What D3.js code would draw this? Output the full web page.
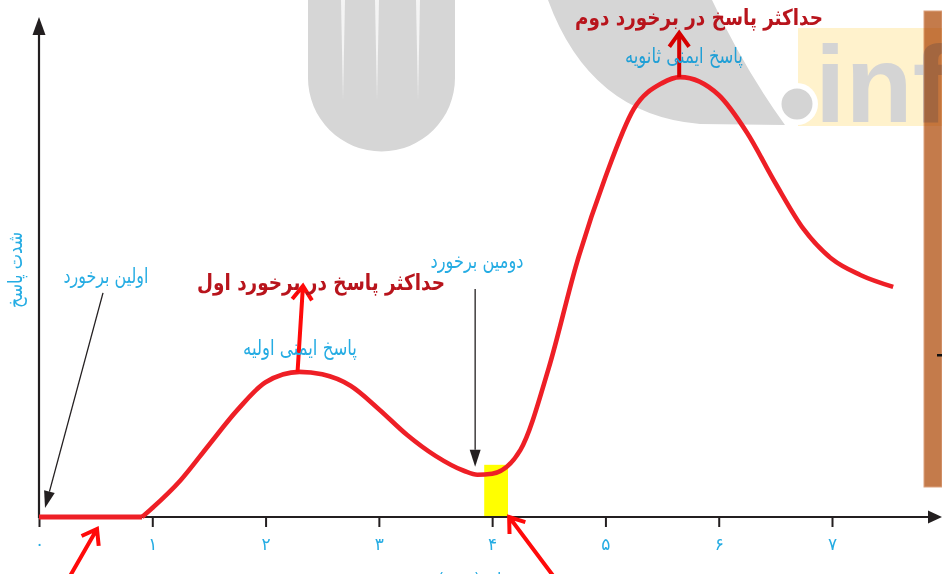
<!DOCTYPE html>
<html>
<head>
<meta charset="utf-8">
<script src="https://cdn.jsdelivr.net/npm/d3@7"></script>
<style>
  html, body { margin: 0; padding: 0; background: #ffffff; }
  svg { display: block; }
</style>
</head>
<body>
<svg id="chart" width="942" height="574"></svg>
<script>
// Time axis and its Persian tick labels
const timeTicks = [0, 1, 2, 3, 4, 5, 6, 7];
const tickLabels = ['۰', '۱', '۲', '۳', '۴', '۵', '۶', '۷'];

// Immune response intensity over time (primary then secondary response)
const responseTime  = [0, 0.91, 1.00, 1.25, 1.50, 1.75, 2.00, 2.30, 2.50, 2.75, 3.00, 3.25, 3.50, 3.75, 3.87, 4.00, 4.25, 4.50, 4.75, 5.00, 5.25, 5.50, 5.66, 6.00, 6.25, 6.50, 6.75, 7.00, 7.25, 7.54];
const responseLevel = [0, 0, 0.18, 0.74, 1.45, 2.15, 2.71, 2.92, 2.87, 2.64, 2.17, 1.65, 1.23, 0.93, 0.85, 0.87, 1.35, 3.00, 5.13, 6.84, 8.21, 8.73, 8.85, 8.49, 7.73, 6.72, 5.79, 5.19, 4.87, 4.63];

// Second exposure window (start, end) and its marker height
const secondExposureWindow = [3.93, 4.14];
const secondExposureLevel = [1.05];

// Texts
const yTitle = 'شدت پاسخ';
const xTitle = 'زمان (هفته)';
const peakTitles = ['حداکثر پاسخ در برخورد اول', 'حداکثر پاسخ در برخورد دوم'];
const responseNames = ['پاسخ ایمنی اولیه', 'پاسخ ایمنی ثانویه'];
const exposureNames = ['اولین برخورد', 'دومین برخورد'];

const svg = d3.select('#chart');
const W = 942, H = 574;

const x = d3.scaleLinear().domain([0, 7]).range([39, 832]);
const y = d3.scaleLinear().domain([0, 10]).range([517, 20]);

const FA = "'DejaVu Sans', 'Noto Sans', sans-serif";
const CYAN = '#25ace3';
const DARKRED = '#b8141c';
const AXIS = '#231f20';

// ---------- page decoration behind the graph ----------
const deco = svg.append('g');
deco.append('rect').attr('x', 924).attr('y', 11).attr('width', 18).attr('height', 476)
  .attr('fill', '#c47b4b').attr('stroke', '#dca27e').attr('stroke-width', 1);
deco.append('rect').attr('x', 937).attr('y', 354).attr('width', 5).attr('height', 2.5).attr('fill', '#111');

const mark = svg.append('g').style('mix-blend-mode', 'multiply');
mark.append('path')
  .attr('d', 'M308,0 L308,78 A73.5,73.5 0 0 0 455,78 L455,0 Z')
  .attr('fill', '#d6d6d6');
[343, 377, 418].forEach(sx => {
  mark.append('path')
    .attr('d', `M${sx - 2},0 L${sx + 2},0 L${sx},100 Z`)
    .attr('fill', '#f4f4f4');
});
mark.append('path')
  .attr('d', 'M548,0 Q590,115 700,124 L785,125 Q745,70 712,0 Z')
  .attr('fill', '#d6d6d6');
mark.append('rect').attr('x', 798).attr('y', 28).attr('width', 144).attr('height', 98).attr('fill', '#fff2cc');
mark.append('circle').attr('cx', 797).attr('cy', 104).attr('r', 21).attr('fill', '#ffffff');
mark.append('circle').attr('cx', 797).attr('cy', 104).attr('r', 15.5).attr('fill', '#d4d4d4');
mark.append('text').attr('x', 815).attr('y', 122)
  .attr('font-family', "'Liberation Sans', Arial, sans-serif").attr('font-weight', 'bold')
  .attr('font-size', 110).attr('fill', '#d4d4d4').text('inf');

// ---------- second exposure window ----------
svg.append('rect')
  .attr('x', x(secondExposureWindow[0]))
  .attr('y', y(secondExposureLevel[0]))
  .attr('width', x(secondExposureWindow[1]) - x(secondExposureWindow[0]))
  .attr('height', y(0) - y(secondExposureLevel[0]))
  .attr('fill', '#ffff00');

// ---------- axes ----------
svg.append('line').attr('x1', x(0)).attr('y1', y(0)).attr('x2', 930).attr('y2', y(0))
  .attr('stroke', AXIS).attr('stroke-width', 2.2);
svg.append('path').attr('d', `M942,${y(0)} L928,${y(0) - 6.5} L928,${y(0) + 6.5} Z`).attr('fill', AXIS);

svg.append('line').attr('x1', x(0)).attr('y1', y(0) + 1).attr('x2', x(0)).attr('y2', 34)
  .attr('stroke', AXIS).attr('stroke-width', 2.2);
svg.append('path').attr('d', `M${x(0)},17 L${x(0) - 6.5},35 L${x(0) + 6.5},35 Z`).attr('fill', AXIS);

const xAxis = svg.append('g').attr('transform', `translate(0,${y(0)})`)
  .call(d3.axisBottom(x).tickValues(timeTicks).tickFormat((d, i) => tickLabels[i]).tickSize(10));
xAxis.select('.domain').remove();
xAxis.selectAll('.tick line').attr('stroke', AXIS).attr('stroke-width', 2);
xAxis.selectAll('.tick text')
  .attr('y', 33).attr('dy', 0)
  .attr('fill', CYAN).attr('font-size', 17).attr('font-family', FA);

// Fit a text to a given width by adjusting its font size
function fitText(sel, width) {
  const w = sel.node().getComputedTextLength();
  const fs = parseFloat(sel.attr('font-size'));
  if (w > 0) sel.attr('font-size', fs * width / w);
  return sel;
}

fitText(svg.append('text')
  .attr('transform', 'translate(22,270) rotate(-90) scale(1,1.25)')
  .attr('text-anchor', 'middle').attr('font-family', FA).attr('font-size', 16)
  .attr('fill', CYAN).text(yTitle), 76);

svg.append('text')
  .attr('x', 478).attr('y', 584)
  .attr('text-anchor', 'middle').attr('font-family', FA).attr('font-size', 16)
  .attr('fill', CYAN).text(xTitle);

// ---------- response curve ----------
const pts = responseTime.map((t, i) => [t, responseLevel[i]]);
const flatEnd = 1;
const line = d3.line().x(d => x(d[0])).y(d => y(d[1]));
svg.append('path')
  .datum(pts.slice(0, flatEnd + 1))
  .attr('d', line)
  .attr('fill', 'none').attr('stroke', '#ee1f26').attr('stroke-width', 4.8);
svg.append('path')
  .datum(pts.slice(flatEnd))
  .attr('d', line.curve(d3.curveMonotoneX))
  .attr('fill', 'none').attr('stroke', '#ee1f26').attr('stroke-width', 4.6)
  .attr('stroke-linejoin', 'round');

// ---------- arrows ----------
function blackArrow(x1, y1, x2, y2) {
  const a = Math.atan2(y2 - y1, x2 - x1), L = 17, hw = 5.5;
  const bx = x2 - L * Math.cos(a), by = y2 - L * Math.sin(a);
  svg.append('line').attr('x1', x1).attr('y1', y1).attr('x2', bx).attr('y2', by)
    .attr('stroke', AXIS).attr('stroke-width', 1.3);
  const px = -Math.sin(a) * hw, py = Math.cos(a) * hw;
  svg.append('path')
    .attr('d', `M${x2},${y2} L${bx + px},${by + py} L${bx - px},${by - py} Z`)
    .attr('fill', AXIS);
}
function redArrow(x1, y1, x2, y2, color) {
  const a = Math.atan2(y2 - y1, x2 - x1), L = 17, s = 0.62;
  const a1 = a + Math.PI - s, a2 = a + Math.PI + s;
  const p1 = [x2 + L * Math.cos(a1), y2 + L * Math.sin(a1)];
  const p2 = [x2 + L * Math.cos(a2), y2 + L * Math.sin(a2)];
  svg.append('path')
    .attr('d', `M${x1},${y1} L${x2},${y2} M${p1[0]},${p1[1]} L${x2},${y2} L${p2[0]},${p2[1]}`)
    .attr('fill', 'none').attr('stroke', color).attr('stroke-width', 4)
    .attr('stroke-linejoin', 'miter').attr('stroke-miterlimit', 10);
}

// exposure pointers
blackArrow(x(0.565), y(4.51), x(0.053), y(0.18));
blackArrow(x(3.85), y(4.59), x(3.85), y(1.01));

// peak pointers
const peak1 = responseLevel.indexOf(d3.max(responseLevel.slice(0, 12)));
const peak2 = responseLevel.indexOf(d3.max(responseLevel));
redArrow(x(responseTime[peak1]) - 2, y(responseLevel[peak1]), x(2.33), y(4.65), '#ff0a0a');
redArrow(x(responseTime[peak2]) - 1, y(responseLevel[peak2]), x(responseTime[peak2]) - 1, y(9.74), '#d60000');

// pointers from below the time axis
redArrow(x(0.274), H + 2, x(0.512), y(-0.24), '#ff0a0a');
redArrow(x(4.54), H + 2, x(4.15), y(0), '#ff0a0a');

// ---------- labels ----------
function label(str, cx, by, size, color, width, bold, sy) {
  const t = svg.append('text')
    .attr('transform', `translate(${cx},${by}) scale(1,${sy})`)
    .attr('text-anchor', 'middle')
    .attr('font-family', FA).attr('font-size', size)
    .attr('font-weight', bold ? 'bold' : 'normal')
    .attr('fill', color)
    .text(str);
  fitText(t, width);
}
label(peakTitles[0], x(2.489), y(4.567), 19, DARKRED, 248, true, 1.2);
label(peakTitles[1], x(5.826), y(9.899), 19, DARKRED, 248, true, 1.2);
label(responseNames[0], x(2.304), y(3.26), 16, CYAN, 114, false, 1.3);
label(responseNames[1], x(5.693), y(9.135), 16, '#1f9fd6', 118, false, 1.3);
label(exposureNames[0], x(0.591), y(4.708), 16, CYAN, 85, false, 1.3);
label(exposureNames[1], x(3.866), y(5.01), 16, CYAN, 93, false, 1.3);
</script>
</body>
</html>
